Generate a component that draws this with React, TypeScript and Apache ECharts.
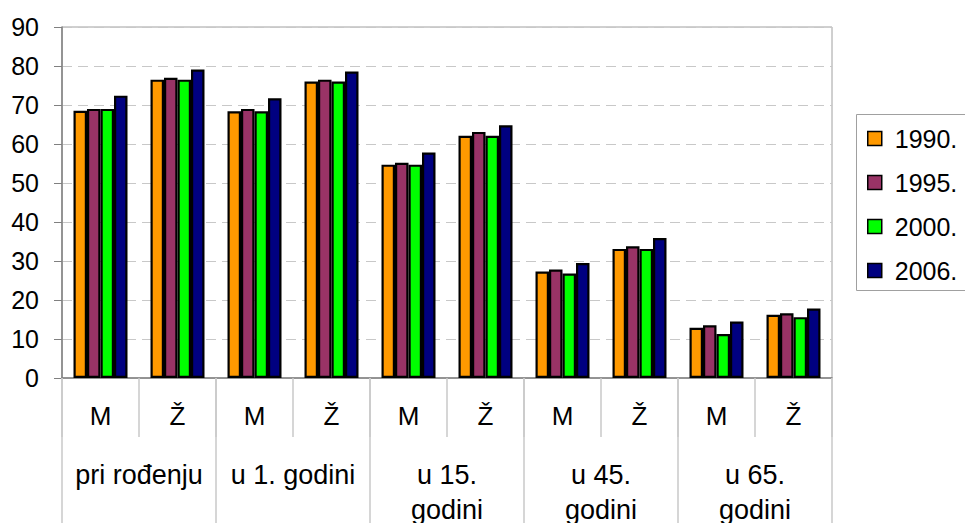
import React, { useEffect, useRef } from "react";
import * as echarts from "echarts";

const categories = ["M", "Ž", "M", "Ž", "M", "Ž", "M", "Ž", "M", "Ž"];
const groups = ["pri rođenju", "u 1. godini", "u 15.\ngodini", "u 45.\ngodini", "u 65.\ngodini"];
const seriesNames = ["1990.", "1995.", "2000.", "2006."];
const s1990 = [68.5, 76.5, 68.4, 76.0, 54.7, 62.1, 27.3, 33.1, 12.9, 16.2];
const s1995 = [69.0, 77.0, 69.0, 76.5, 55.2, 63.1, 27.8, 33.8, 13.5, 16.6];
const s2000 = [69.0, 76.5, 68.4, 76.0, 54.7, 62.1, 26.8, 33.1, 11.3, 15.6];
const s2006 = [72.4, 79.1, 71.7, 78.6, 57.8, 64.8, 29.5, 35.9, 14.5, 17.8];
const yTicks = { min: 0, max: 90, interval: 10 };
const colors = ["#FF9900", "#993366", "#00FF00", "#000080"];

const FONT = "'Liberation Sans', Arial, sans-serif";

export default function App() {
  const ref = useRef<HTMLDivElement>(null);
  useEffect(() => {
    document.body.style.margin = "0";
    document.body.style.overflow = "hidden";
    const chart = echarts.init(ref.current!, null, { renderer: "svg" });
    const data = [s1990, s1995, s2000, s2006];
    chart.setOption({
      animation: false,
      textStyle: { fontFamily: FONT },
      grid: {
        left: 62,
        right: 133,
        top: 27,
        bottom: 145,
        outerBoundsMode: "none",
        containLabel: false,
        show: true,
        borderColor: "#a0a0a0",
        borderWidth: 1,
        backgroundColor: "transparent",
      },
      graphic: [
        {
          type: "rect",
          silent: true,
          shape: { x: 856.5, y: 114.5, width: 130, height: 176 },
          style: { fill: "none", stroke: "#a0a0a0", lineWidth: 1 },
        },
      ],
      legend: {
        orient: "vertical",
        left: 867,
        top: 126,
        padding: 0,
        itemWidth: 14,
        itemHeight: 14,
        itemGap: 19,
        icon: "rect",
        itemStyle: { borderColor: "#000", borderWidth: 1.5 },
        textStyle: {
          fontFamily: FONT,
          fontSize: 25,
          color: "#000",
          lineHeight: 25,
          padding: [0, 0, 0, 8],
        },
        data: seriesNames,
      },
      xAxis: [
        {
          type: "category",
          data: categories,
          position: "bottom",
          axisLine: { show: true, lineStyle: { color: "#808080", width: 1.5 } },
          axisTick: {
            show: true,
            interval: 0,
            length: 59,
            lineStyle: { color: "#c8c8c8", width: 1.5 },
          },
          axisLabel: {
            interval: 0,
            fontSize: 26,
            color: "#000",
            fontFamily: FONT,
            margin: 25,
          },
        },
        {
          type: "category",
          data: groups,
          position: "bottom",
          axisLine: { show: false },
          axisTick: {
            show: true,
            interval: 0,
            length: 145,
            lineStyle: { color: "#c8c8c8", width: 1.5 },
          },
          axisLabel: {
            interval: 0,
            fontSize: 27,
            color: "#000",
            fontFamily: FONT,
            margin: 79,
            lineHeight: 35,
          },
        },
      ],
      yAxis: {
        type: "value",
        min: yTicks.min,
        max: yTicks.max,
        interval: yTicks.interval,
        axisLine: { show: true, lineStyle: { color: "#808080", width: 1.5 } },
        axisTick: { show: true, length: 8, lineStyle: { color: "#808080", width: 1 } },
        axisLabel: { fontSize: 25, color: "#000", fontFamily: FONT, margin: 23 },
        splitLine: {
          show: true,
          lineStyle: { color: "#c8c8c8", type: [10, 6], width: 1 },
        },
      },
      series: seriesNames.map((name, i) => ({
        name,
        type: "bar",
        xAxisIndex: 0,
        data: data[i],
        barWidth: 13.5,
        barGap: "0%",
        itemStyle: { color: colors[i], borderColor: "#000", borderWidth: 2.2 },
      })),
    });
    return () => chart.dispose();
  }, []);
  return (
    <div style={{ width: 965, height: 523, overflow: "hidden" }}>
      <div ref={ref} style={{ width: 965, height: 523 }} />
    </div>
  );
}
